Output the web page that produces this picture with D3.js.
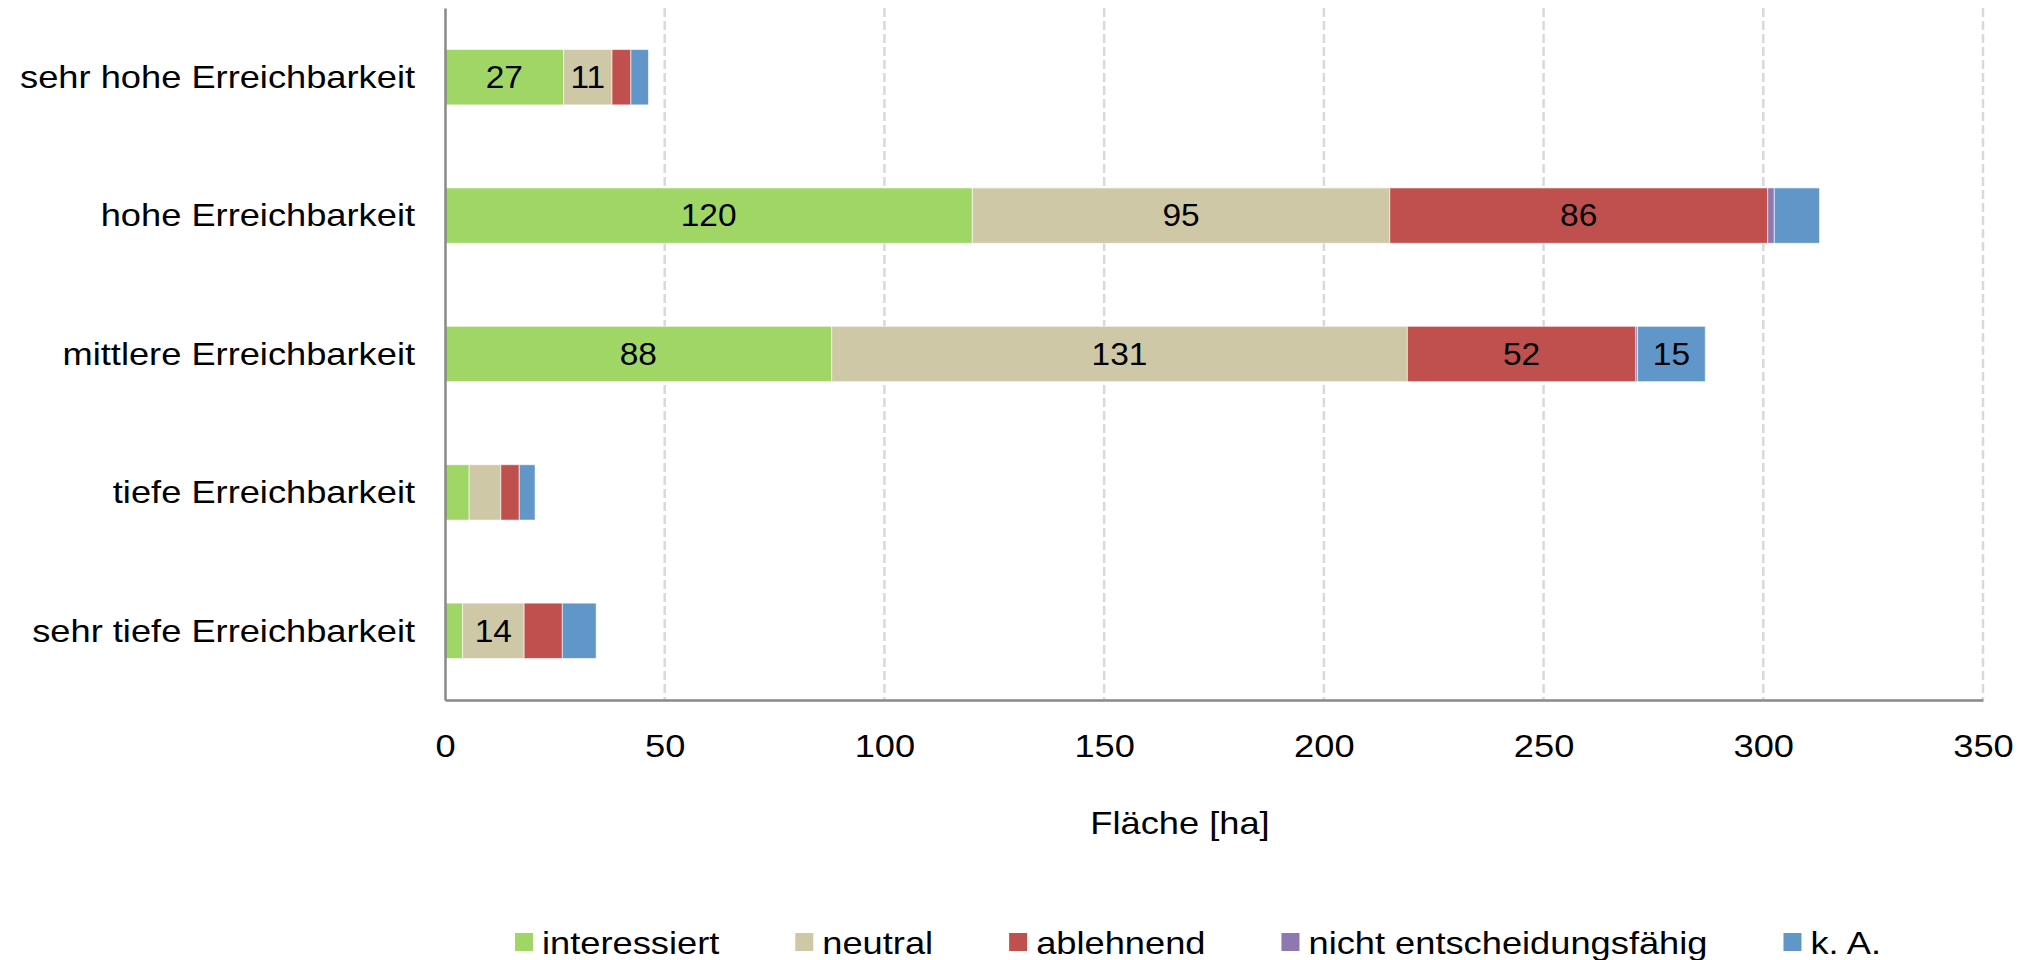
<!DOCTYPE html>
<html>
<head>
<meta charset="utf-8">
<script src="https://cdn.jsdelivr.net/npm/d3@7"></script>
<style>
  body { margin: 0; background: #fff; }
  svg { display: block; font-family: "Liberation Sans", Arial, sans-serif; }
</style>
</head>
<body>
<svg></svg>
<script>
const categories = ['sehr hohe Erreichbarkeit', 'hohe Erreichbarkeit', 'mittlere Erreichbarkeit', 'tiefe Erreichbarkeit', 'sehr tiefe Erreichbarkeit'];
const seriesNames = ['interessiert', 'neutral', 'ablehnend', 'nicht entscheidungsfähig', 'k. A.'];
const interessiert = [27, 120, 88, 5.5, 4];
const neutral = [11, 95, 131, 7.2, 14];
const ablehnend = [4.3, 86, 52, 4.2, 8.7];
const nichtEntscheidungsfaehig = [0, 1.5, 0.4, 0, 0];
const keineAngabe = [4, 10.3, 15.4, 3.6, 7.7];
const xTicks = [0, 50, 100, 150, 200, 250, 300, 350];

const colors = ['#a0d665', '#cec8a6', '#c0504d', '#8f78b0', '#6196c9'];

const [width, height] = [2024, 960];
const margin = {top: 8, right: 41, bottom: 260, left: 445};
const SX = 1.17; // text looks horizontally stretched in the reference
const fontSize = 31;

const svg = d3.select('svg')
  .attr('width', width)
  .attr('height', height)
  .attr('viewBox', [0, 0, width, height]);

const series = [interessiert, neutral, ablehnend, nichtEntscheidungsfaehig, keineAngabe];
const rows = categories.map((c, i) => {
  const o = {cat: c};
  seriesNames.forEach((s, j) => o[s] = series[j][i]);
  return o;
});
const stacked = d3.stack().keys(seriesNames)(rows);

const x = d3.scaleLinear()
  .domain([0, 350])
  .range([margin.left, width - margin.right]);

const y = d3.scaleBand()
  .domain(categories)
  .range([margin.top, height - margin.bottom])
  .paddingInner(0.6)
  .paddingOuter(0.3);

// grid
svg.append('g')
  .selectAll('line')
  .data(xTicks.slice(1))
  .join('line')
  .attr('x1', d => x(d))
  .attr('x2', d => x(d))
  .attr('y1', margin.top)
  .attr('y2', height - margin.bottom)
  .attr('stroke', '#d9d9d9')
  .attr('stroke-width', 2.5)
  .attr('stroke-dasharray', '9,4');

// bars
svg.append('g')
  .selectAll('g')
  .data(stacked)
  .join('g')
  .attr('fill', (d, i) => colors[i])
  .selectAll('rect')
  .data(d => d.map(v => Object.assign(v, {key: d.key})))
  .join('rect')
  .attr('x', d => x(d[0]))
  .attr('y', d => y(d.data.cat))
  .attr('width', d => x(d[1]) - x(d[0]))
  .attr('height', y.bandwidth())
  .attr('stroke', d => d[1] - d[0] > 0 ? 'rgba(255,255,255,0.6)' : 'none')
  .attr('stroke-width', 1);

// data labels
svg.append('g')
  .selectAll('text')
  .data(stacked.flat().filter(d => d[1] - d[0] >= 10.5))
  .join('text')
  .attr('transform', d => `translate(${(x(d[0]) + x(d[1])) / 2},${y(d.data.cat) + y.bandwidth() / 2}) scale(1.08,1)`)
  .attr('text-anchor', 'middle')
  .attr('dy', '0.35em')
  .attr('font-size', fontSize)
  .attr('fill', '#000')
  .text(d => Math.round(d[1] - d[0]));

// axes
const xAxis = svg.append('g')
  .attr('transform', `translate(0,${height - margin.bottom})`)
  .call(d3.axisBottom(x).tickValues(xTicks).tickSize(0).tickSizeOuter(0));
xAxis.select('.domain').attr('stroke', '#898989').attr('stroke-width', 2.5);
xAxis.selectAll('.tick text')
  .attr('y', 57)
  .attr('dy', 0)
  .attr('font-size', fontSize)
  .attr('fill', '#000')
  .attr('transform', `scale(${SX},1)`);

const yAxis = svg.append('g')
  .attr('transform', `translate(${margin.left},0)`)
  .call(d3.axisLeft(y).tickSize(0).tickSizeOuter(0).tickPadding(0));
yAxis.select('.domain').attr('stroke', '#898989').attr('stroke-width', 2.5);
yAxis.selectAll('.tick text')
  .attr('x', -30 / SX)
  .attr('dy', '0.35em')
  .attr('font-size', fontSize)
  .attr('font-family', null)
  .attr('fill', '#000')
  .attr('transform', `scale(${SX},1)`);
svg.selectAll('.tick text').attr('font-family', null);
svg.selectAll('g').filter(function() { return this.hasAttribute('font-family'); }).attr('font-family', null);

// axis title
svg.append('text')
  .attr('transform', `translate(1180,834) scale(${SX},1)`)
  .attr('text-anchor', 'middle')
  .attr('font-size', fontSize)
  .text('Fläche [ha]');

// legend
const legend = svg.append('g');
let lx = 515;
seriesNames.forEach((name, i) => {
  const g = legend.append('g').attr('transform', `translate(${lx},0)`);
  g.append('rect')
    .attr('x', 0)
    .attr('y', 933)
    .attr('width', 18)
    .attr('height', 18)
    .attr('fill', colors[i]);
  const t = g.append('text')
    .attr('transform', `translate(27,954) scale(${SX},1)`)
    .attr('font-size', fontSize)
    .text(name);
  lx += 27 + t.node().getComputedTextLength() * SX + 76;
});
</script>
</body>
</html>
